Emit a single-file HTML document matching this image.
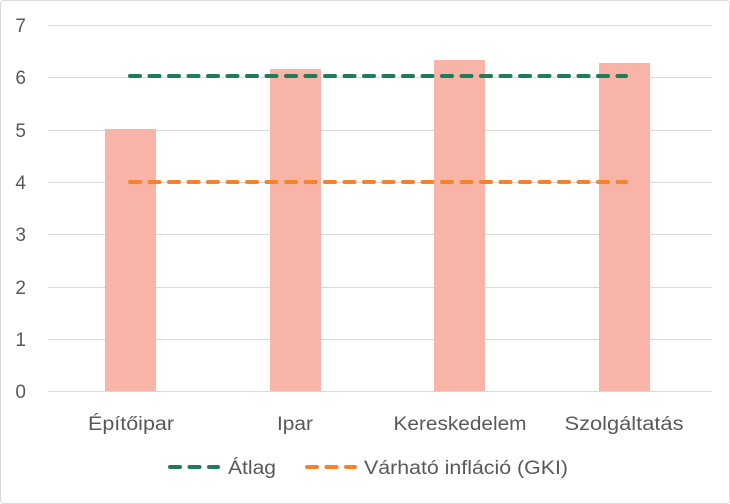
<!DOCTYPE html>
<html><head><meta charset="utf-8"><style>
html,body{margin:0;padding:0;background:#fff;}
svg{display:block;font-family:"Liberation Sans",sans-serif;}
</style></head><body>
<svg width="730" height="504" viewBox="0 0 730 504" xmlns="http://www.w3.org/2000/svg">
<rect x="0.5" y="0.5" width="729" height="503" rx="3" fill="#fff" stroke="#d9d9d9"/>
<g stroke="#d9d9d9" stroke-width="1">
<line x1="48" y1="25.5" x2="712" y2="25.5"/>
<line x1="48" y1="77.5" x2="712" y2="77.5"/>
<line x1="48" y1="130.5" x2="712" y2="130.5"/>
<line x1="48" y1="182.5" x2="712" y2="182.5"/>
<line x1="48" y1="234.5" x2="712" y2="234.5"/>
<line x1="48" y1="287.5" x2="712" y2="287.5"/>
<line x1="48" y1="339.5" x2="712" y2="339.5"/>
<line x1="48" y1="391.5" x2="712" y2="391.5"/>
</g>
<g fill="#595959" font-size="19" text-anchor="end">
<text x="26" y="32">7</text><text x="26" y="84">6</text><text x="26" y="137">5</text>
<text x="26" y="189">4</text><text x="26" y="241">3</text><text x="26" y="294">2</text>
<text x="26" y="346">1</text><text x="26" y="398">0</text>
</g>
<g fill="#f8b4a6">
<rect x="105" y="129" width="51" height="262"/>
<rect x="270" y="69" width="51" height="322"/>
<rect x="434" y="60" width="51" height="331"/>
<rect x="599" y="63" width="51" height="328"/>
</g>
<line x1="130" y1="76" x2="626" y2="76" stroke="#217a5a" stroke-width="4" stroke-linecap="round" stroke-dasharray="10,9.5"/>
<line x1="130" y1="182" x2="626" y2="182" stroke="#f6832b" stroke-width="4" stroke-linecap="round" stroke-dasharray="10,9.5"/>
<g fill="#595959" font-size="19" text-anchor="middle">
<text x="131" y="430" textLength="86" lengthAdjust="spacingAndGlyphs">Építőipar</text>
<text x="295" y="430" textLength="36" lengthAdjust="spacingAndGlyphs">Ipar</text>
<text x="460" y="430" textLength="133" lengthAdjust="spacingAndGlyphs">Kereskedelem</text>
<text x="624" y="430" textLength="119" lengthAdjust="spacingAndGlyphs">Szolgáltatás</text>
</g>
<line x1="170" y1="467" x2="218" y2="467" stroke="#217a5a" stroke-width="4" stroke-linecap="round" stroke-dasharray="10,9.5"/>
<text x="228" y="474" fill="#595959" font-size="19" textLength="48" lengthAdjust="spacingAndGlyphs">Átlag</text>
<line x1="307" y1="467" x2="355" y2="467" stroke="#f6832b" stroke-width="4" stroke-linecap="round" stroke-dasharray="10,9.5"/>
<text x="364" y="474" fill="#595959" font-size="19" textLength="204" lengthAdjust="spacingAndGlyphs">Várható infláció (GKI)</text>
</svg>
</body></html>
